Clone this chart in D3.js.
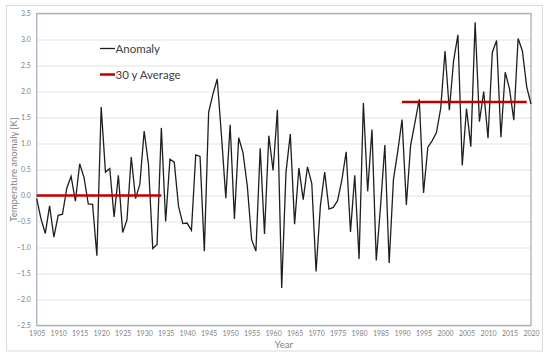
<!DOCTYPE html>
<html>
<head>
<meta charset="utf-8">
<script src="https://cdn.jsdelivr.net/npm/d3@7"></script>
<style>
  body { margin: 0; background: #fff; }
  svg { display: block; font-family: Lato, "Open Sans", sans-serif; }
</style>
</head>
<body>
<div id="chart"></div>
<script>
// yearly anomaly values, 1905..2020
var years = d3.range(1905, 2021);
var anomaly = [
  -0.06, -0.45, -0.73, -0.20, -0.80, -0.38, -0.36, 0.14, 0.37, -0.11,
  0.61, 0.35, -0.16, -0.17, -1.16, 1.70, 0.45, 0.52, -0.41, 0.39,
  -0.71, -0.47, 0.74, -0.06, 0.22, 1.24, 0.60, -1.02, -0.94, 1.30,
  -0.50, 0.70, 0.64, -0.21, -0.54, -0.53, -0.67, 0.78, 0.75, -1.07,
  1.60, 1.95, 2.24, 1.14, -0.05, 1.36, -0.45, 1.11, 0.82, 0.18,
  -0.85, -1.07, 0.91, -0.74, 1.15, 0.48, 1.65, -1.78, 0.45, 1.18,
  -0.55, 0.53, -0.08, 0.55, 0.23, -1.46, -0.20, 0.45, -0.26, -0.23,
  -0.10, 0.30, 0.84, -0.70, 0.39, -1.22, 1.78, 0.08, 1.27, -1.25,
  -0.20, 0.97, -1.30, 0.31, 0.85, 1.46, -0.18, 0.97, 1.40, 1.85,
  0.05, 0.93, 1.05, 1.21, 1.68, 2.78, 1.64, 2.60, 3.09, 0.58,
  1.67, 0.94, 3.33, 1.42, 2.00, 1.10, 2.75, 2.98, 1.12, 2.37,
  2.05, 1.45, 3.02, 2.78, 2.09, 1.76
];
var data = years.map(function(y, i) { return {year: y, value: anomaly[i]}; });

// 30 year averages
var avgPeriods = [
  {from: 1905, to: 1934, value: 0.0},
  {from: 1990, to: 2019, value: 1.8}
];

var yTicks = [-2.5, -2.0, -1.5, -1.0, -0.5, 0.0, 0.5, 1.0, 1.5, 2.0, 2.5, 3.0, 3.5];
var xTicks = d3.range(1905, 2021, 5);

var width = 550, height = 357;
var margin = {top: 13.5, right: 19, bottom: 31.5, left: 36.7};
var w = width - margin.left - margin.right,
    h = height - margin.top - margin.bottom;

var svg = d3.select("#chart").append("svg")
  .attr("width", width)
  .attr("height", height);

// outer chart frame
svg.append("rect")
  .attr("x", 6.5).attr("y", 5.5)
  .attr("width", 536).attr("height", 345.5)
  .attr("fill", "#fff")
  .attr("stroke", "#d9d9d9")
  .attr("stroke-width", 1);

var g = svg.append("g")
  .attr("transform", "translate(" + margin.left + "," + margin.top + ")");

var x = d3.scaleLinear().domain([1905, 2020]).range([0, w]);
var y = d3.scaleLinear().domain([-2.5, 3.5]).range([h, 0]);

// gridlines
g.append("g")
  .attr("class", "grid")
  .call(d3.axisLeft(y).tickValues(yTicks).tickSize(-w).tickFormat(""))
  .call(function(s) {
    s.select(".domain").remove();
    s.selectAll("line").attr("stroke", "#e3e3e3").attr("stroke-width", 1);
  });

// y tick labels
g.append("g")
  .call(d3.axisLeft(y).tickValues(yTicks).tickSize(0).tickPadding(6).tickFormat(d3.format(".1f")))
  .call(function(s) {
    s.select(".domain").remove();
    s.selectAll("text").attr("fill", "#7f7f7f").attr("font-size", 7).attr("font-family", "Lato, sans-serif");
  });

// x tick labels
g.append("g")
  .attr("transform", "translate(0," + h + ")")
  .call(d3.axisBottom(x).tickValues(xTicks).tickSize(0).tickPadding(6).tickFormat(d3.format("d")))
  .call(function(s) {
    s.select(".domain").remove();
    s.selectAll("text").attr("fill", "#7f7f7f").attr("font-size", 7).attr("font-family", "Lato, sans-serif");
  });

// plot border
g.append("rect")
  .attr("width", w).attr("height", h)
  .attr("fill", "none")
  .attr("stroke", "#aab0c0")
  .attr("stroke-width", 1.3);

// anomaly line
var line = d3.line()
  .x(function(d) { return x(d.year); })
  .y(function(d) { return y(d.value); });

g.append("path")
  .datum(data)
  .attr("fill", "none")
  .attr("stroke", "#1f1f1f")
  .attr("stroke-width", 1.3)
  .attr("stroke-linejoin", "miter")
  .attr("d", line);

// average lines
g.selectAll(".avg")
    .data(avgPeriods)
  .enter().append("line")
    .attr("class", "avg")
    .attr("x1", function(d) { return x(d.from); })
    .attr("x2", function(d) { return x(d.to); })
    .attr("y1", function(d) { return y(d.value); })
    .attr("y2", function(d) { return y(d.value); })
    .attr("stroke", "#c00000")
    .attr("stroke-width", 2.5);

// axis titles
svg.append("text")
  .attr("x", margin.left + w / 2)
  .attr("y", 348)
  .attr("text-anchor", "middle")
  .attr("fill", "#7f7f7f")
  .attr("font-size", 9.5)
  .text("Year");

svg.append("text")
  .attr("transform", "translate(17," + (margin.top + h / 2) + ") rotate(-90)")
  .attr("text-anchor", "middle")
  .attr("fill", "#7f7f7f")
  .attr("font-size", 9.5)
  .text("Temperature anomaly [K]");

// legend
var legend = [
  {name: "Anomaly", color: "#1f1f1f", sw: 1.3},
  {name: "30 y Average", color: "#c00000", sw: 2.5}
];
var lg = svg.selectAll(".legend")
    .data(legend)
  .enter().append("g")
    .attr("class", "legend")
    .attr("transform", function(d, i) { return "translate(100," + (48.5 + i * 26) + ")"; });

lg.append("line")
  .attr("x1", 0).attr("x2", 15)
  .attr("stroke", function(d) { return d.color; })
  .attr("stroke-width", function(d) { return d.sw; });

lg.append("text")
  .attr("x", 15.5)
  .attr("y", 4)
  .attr("fill", "#404040")
  .attr("font-size", 11.5)
  .text(function(d) { return d.name; });
</script>
</body>
</html>
